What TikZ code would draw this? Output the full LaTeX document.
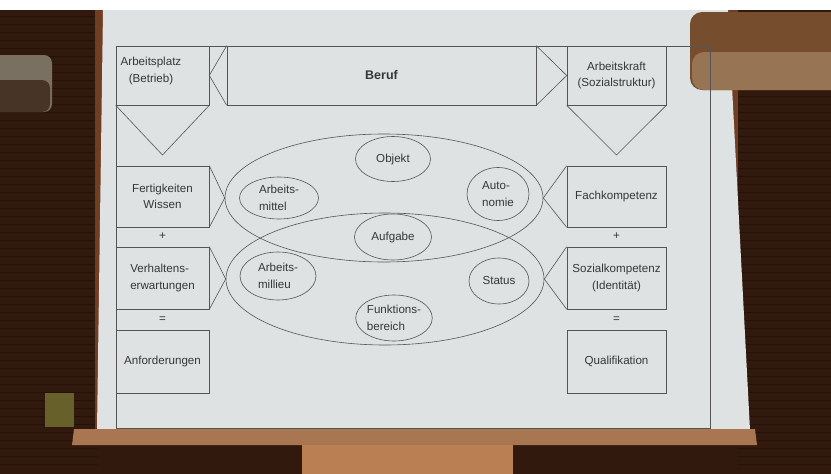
\documentclass[tikz,border=0pt]{standalone}
\usepackage{fontspec}
\setmainfont{Liberation Sans}
\usetikzlibrary{shapes.geometric}

\definecolor{wall}{RGB}{50,25,13}
\definecolor{stripe}{RGB}{36,18,10}
\definecolor{wood}{RGB}{112,62,34}
\definecolor{screen}{RGB}{222,226,227}
\definecolor{bar}{RGB}{168,118,80}
\definecolor{stand}{RGB}{186,128,84}
\definecolor{lampside}{RGB}{118,78,46}
\definecolor{lampbottom}{RGB}{150,116,84}
\definecolor{lampgrey}{RGB}{122,112,98}
\definecolor{sign}{RGB}{104,96,42}
\definecolor{linegray}{RGB}{85,85,85}
\definecolor{ink}{RGB}{55,55,55}

\begin{document}
\begin{tikzpicture}[x=1pt, y=-1pt,
		line/.style={draw=linegray, line width=0.6pt},
		box/.style={line, rectangle, inner sep=0pt, align=center, text=ink, font=\fontsize{11.6}{16.5}\selectfont},
		ell/.style={line, ellipse, inner sep=0pt, align=left, text=ink, font=\fontsize{11.6}{16.5}\selectfont},
		dim/.style 2 args={minimum width=#1pt, minimum height=#2pt},
		txt/.style={inner sep=0pt, align=center, text=ink, font=\fontsize{11.6}{16.5}\selectfont}]
		
		\useasboundingbox (0,0) rectangle (831,474);
		
		% room
		\fill [wall] (0,0) rectangle (831,474);
		\foreach \y in {16,24,...,470} {
			\draw [stripe, line width=0.8pt] (0,\y) -- (97,\y);
			\draw [stripe, line width=0.8pt] (737,\y) -- (831,\y);
		}
		\fill [white] (0,0) rectangle (831,10);
		\fill [wood] (95,10) rectangle (108,430);
		\fill [wood] (726,10) rectangle (738,430);
		\fill [screen] (103,10) -- (728,10) -- (750,430) -- (97,430) -- cycle;
		\fill [bar] (74,429) -- (755,429) -- (757,445) -- (72,445) -- cycle;
		\fill [stand] (302,445) rectangle (513,474);
		\fill [sign] (45,393) rectangle (74,427);
		
		% lamps
		\fill [lampgrey, rounded corners=8pt] (-10,55) rectangle (52,112);
		\fill [wall!70!lampgrey, rounded corners=8pt] (-10,80) rectangle (50,112);
		\fill [lampside, rounded corners=12pt] (690,12) rectangle (845,90);
		\fill [lampbottom, rounded corners=12pt] (692,52) rectangle (845,90);
		
		% slide
		\draw [line] (116,46) rectangle (710,428);
		
		\node [box, dim={93}{59}] (platz) at (162.5,75.5) {};
		\node [txt] (platztext) at (151,71) {Arbeitsplatz\\(Betrieb)};
		\node [box, dim={309}{59}, font=\fontsize{12.5}{15}\selectfont\bfseries] (beruf) at (381.5,75.5) {Beruf};
		\node [box, dim={99}{59}] (kraft) at (616.5,75.5) {Arbeitskraft\\(Sozialstruktur)};
		
		\node [box, dim={93}{61}] (fertig) at (162.5,196.5) {Fertigkeiten\\Wissen};
		\node [box, dim={93}{62}, align=left] (verhalten) at (162.5,278) {Verhaltens-\\erwartungen};
		\node [box, dim={93}{63}] (anford) at (162.5,361.5) {Anforderungen};
		\node [box, dim={99}{61}] (fach) at (616.5,196.5) {Fachkompetenz};
		\node [box, dim={99}{62}] (sozial) at (616.5,278) {Sozialkompetenz\\(Identität)};
		\node [box, dim={99}{63}] (quali) at (616.5,361.5) {Qualifikation};
		
		\node [txt] (plusL) at (162.5,236) {+};
		\node [txt] (plusR) at (616.5,236) {+};
		\node [txt] (eqL) at (162.5,320) {=};
		\node [txt] (eqR) at (616.5,320) {=};
		
		\node [ell, dim={318}{128}] (oben) at (384,198) {};
		\node [ell, dim={318}{132}] (unten) at (385,279) {};
		
		\node [ell, dim={75}{45}] (objekt) at (393,159) {Objekt};
		\node [ell, dim={77}{46}] (aufgabe) at (393,237) {Aufgabe};
		\node [ell, dim={76}{46}] (funktion) at (394,318) {Funktions-\\bereich};
		\node [ell, dim={79}{42}] (mittel) at (279,198) {Arbeits-\\mittel};
		\node [ell, dim={76}{48}] (milieu) at (278,276) {Arbeits-\\millieu};
		\node [ell, dim={62}{53}] (autonomie) at (498,194) {Auto-\\nomie};
		\node [ell, dim={60}{46}] (status) at (499,281) {Status};
		
		\coordinate (tipL) at (162.5,155);
		\coordinate (tipR) at (616.5,155);
		
		\draw [line] (platz.south west) -- (tipL) -- (platz.south east);
		\draw [line] (kraft.south west) -- (tipR) -- (kraft.south east);
		\draw [line] (beruf.north west) -- (platz.east) -- (beruf.south west);
		\draw [line] (beruf.north east) -- (kraft.west) -- (beruf.south east);
		\draw [line] (fertig.north east) -- (oben.west) -- (fertig.south east);
		\draw [line] (verhalten.north east) -- (unten.west) -- (verhalten.south east);
		\draw [line] (fach.north west) -- (oben.east) -- (fach.south west);
		\draw [line] (sozial.north west) -- (unten.east) -- (sozial.south west);
	\end{tikzpicture}
\end{document}
